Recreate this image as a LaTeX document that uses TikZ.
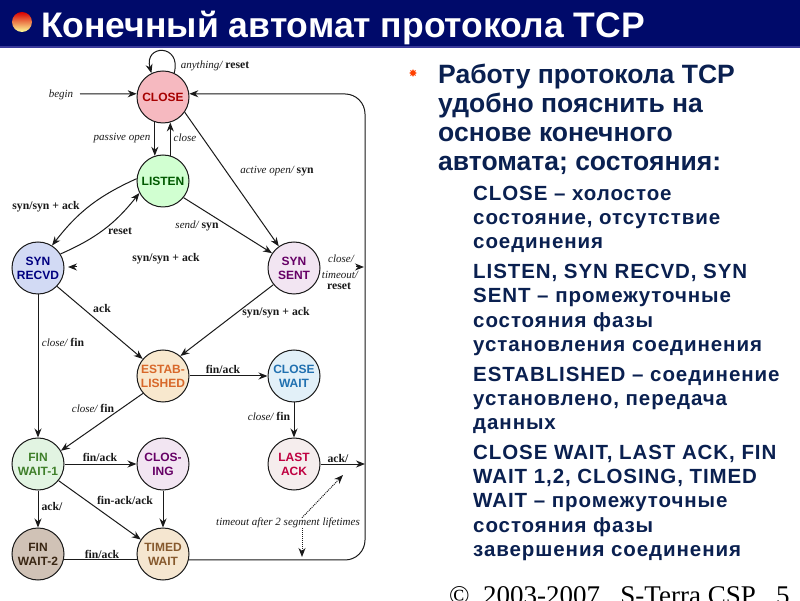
\documentclass[tikz,border=0pt]{standalone}
\usepackage{fontspec}
\setmainfont{Liberation Serif}
\setsansfont{Liberation Sans}
\newfontfamily\bodyfont[LetterSpace=4.5]{Liberation Sans}
\usepackage{xcolor}
\usetikzlibrary{arrows.meta,positioning,shapes.geometric}
\definecolor{titlenavy}{HTML}{000A6A}
\definecolor{titleline}{HTML}{3A3A9A}
\definecolor{inknavy}{HTML}{0A2050}
\definecolor{bk90}{HTML}{1A1A1A}
\definecolor{closefill}{HTML}{F6B9C0}
\definecolor{recvdfill}{HTML}{D2DAF4}
\definecolor{estabfill}{HTML}{F8E8CE}
\definecolor{waitfill}{HTML}{E2F0F8}
\definecolor{finfill}{HTML}{E2F4E2}
\definecolor{fintwofill}{HTML}{D0C2B6}
\definecolor{timedfill}{HTML}{F5E6D0}
\definecolor{lastfill}{HTML}{F5EDED}
\newcommand{\lit}[1]{{\fontsize{11}{12}\selectfont\itshape\mdseries #1}}
\tikzset{
  statenode/.style={
    circle, draw=bk90, fill=#1, line width=1pt,
    minimum size=52pt, inner sep=0pt, align=center,
    font=\fontsize{12}{14}\selectfont\sffamily\bfseries
  },
  edgelabel/.style={
    inner sep=0pt, text=bk90,
    font=\fontsize{11.7}{13}\selectfont\bfseries
  },
  dataarrow/.style={
    -{Stealth[length=9pt,width=7pt]}, line width=1pt, color=bk90
  },
  plainline/.style={line width=1pt, color=bk90},
  timerarrow/.style={
    -{Stealth[length=9pt,width=7pt]}, densely dotted, line width=1pt, color=bk90
  },
  headtext/.style={
    inner sep=0pt, align=left, text=inknavy, anchor=north west,
    font=\fontsize{26.5}{29}\selectfont\sffamily\bfseries
  },
  bodytext/.style={
    inner sep=0pt, align=left, text=inknavy, anchor=north west,
    font=\fontsize{20.5}{24.2}\selectfont\bodyfont\bfseries
  },
}
\begin{document}
\begin{tikzpicture}[x=1pt, y=1pt, node distance=84pt and 125pt, on grid]
  \useasboundingbox (0,0) rectangle (800,600);
  \fill[white] (0,0) rectangle (800,600);

  % Title bar
  \fill[titlenavy] (0,554) rectangle (800,600);
  \fill[titleline] (0,552) rectangle (800,554);
  \node[circle, minimum size=20pt, inner sep=0pt, top color=red!85!black, bottom color=yellow!40] (ball) at (22,578) {};
  \node[anchor=west, inner sep=0pt, text=white, font=\fontsize{35.5}{38}\selectfont\sffamily\bfseries] (title) at (41,572) {Конечный автомат протокола TCP};

  % States
  \node[statenode=closefill, text=red!65!black] (close) at (163,503) {CLOSE};
  \node[statenode=green!18, text=green!35!black, below=84pt of close] (listen) {LISTEN};
  \node[statenode=recvdfill, text=blue!50!black, below left=87pt and 125pt of listen] (recvd) {SYN\\RECVD};
  \node[statenode=violet!10, text=violet!80!black, below right=87pt and 131pt of listen] (sent) {SYN\\SENT};
  \node[statenode=estabfill, text={rgb,255:red,216;green,104;blue,42}, below=195pt of listen] (estab) {ESTAB-\\LISHED};
  \node[statenode=waitfill, text={rgb,255:red,32;green,112;blue,176}, right=131pt of estab] (closewait) {CLOSE\\WAIT};
  \node[statenode=lastfill, text=purple, below=88pt of closewait] (lastack) {LAST\\ACK};
  \node[statenode=violet!10, text=violet!80!black, below=88pt of estab] (closing) {CLOS-\\ING};
  \node[statenode=finfill, text={rgb,255:red,63;green,127;blue,42}, left=125pt of closing] (finone) {FIN\hspace{18pt}\\WAIT-1};
  \node[statenode=timedfill, text=brown!70!black, below=90pt of closing] (timed) {TIMED\\WAIT};
  \node[statenode=fintwofill, text=brown!30!black, left=125pt of timed] (fintwo) {FIN\hspace{18pt}\\WAIT-2};

  % Free ends
  \coordinate (beginend) at (80,506);
  \coordinate (sentout) at (364,333);
  \coordinate (sentoutb) at (356,333);
  \coordinate (recvdin) at (68,333);
  \coordinate (recvdinb) at (77,333);
  \coordinate (ackend) at (365,136);
  \coordinate (dottop) at (343,125);
  \coordinate (dotbot) at (302,43);

  % Connectors
  \draw[dataarrow] (beginend) -- (close.173);
  \draw[dataarrow] (close.65) to[out=75, in=105, looseness=3.4] (close.116);
  \draw[dataarrow] (close.-108) -- (listen.108);
  \draw[dataarrow] (listen.74) -- (close.-74);
  \draw[dataarrow] (close.-35) -- (sent.125);
  \draw[dataarrow] (listen.175) to[bend right=14] (recvd.58);
  \draw[dataarrow] (recvd.32) to[bend right=14] (listen.-153);
  \draw[dataarrow] (listen.-39) -- (sent.146);
  \draw[dataarrow] (recvd.-44) -- (estab.140);
  \draw[dataarrow] (recvd.south) -- (finone.north);
  \draw[dataarrow] (sent.-141) -- (estab.49);
  \draw[dataarrow] (estab.east) -- (closewait.west);
  \draw[dataarrow] (estab.-139) -- (finone.30);
  \draw[dataarrow] (closewait.south) -- (lastack.north);
  \draw[dataarrow] (finone.east) -- (closing.west);
  \draw[dataarrow] (finone.south) -- (fintwo.north);
  \draw[dataarrow] (finone.-39) -- (timed.147);
  \draw[dataarrow] (closing.south) -- (timed.north);
  \draw[plainline] (fintwo.-13) -- (timed.193);
  \draw[dataarrow, rounded corners=20pt] (timed.-13) -- (365,40) -- (365,506) -- (close.7);
  \draw[dataarrow] (sentoutb) -- (sentout);
  \draw[dataarrow] (recvdinb) -- (recvdin);
  \draw[dataarrow] (lastack.east) -- (ackend);

  % Edge labels
  \node[edgelabel] (lbegin) at (61,505) {\lit{begin}};
  \node[edgelabel] (lany) at (215,534) {\lit{anything/} reset};
  \node[edgelabel] (lpassive) at (122,462) {\lit{passive open}};
  \node[edgelabel] (lclose) at (185,462) {\lit{close}};
  \node[edgelabel] (lactive) at (277,429) {\lit{active open/} syn};
  \node[edgelabel] (lsynack) at (46,393) {syn/syn + ack};
  \node[edgelabel] (lreset) at (120,369) {reset};
  \node[edgelabel] (lsend) at (197,374) {\lit{send/} syn};
  \node[edgelabel] (lsynackb) at (166,341) {syn/syn + ack};
  \node[edgelabel] (lcloseb) at (341,341) {\lit{close/}};
  \node[edgelabel] (ltimeout) at (340,325) {\lit{timeout/}};
  \node[edgelabel] (lresetb) at (339,314) {reset};
  \node[edgelabel] (lack) at (102,291) {ack};
  \node[edgelabel] (lsynackc) at (276,287) {syn/syn + ack};
  \node[edgelabel] (lclosec) at (63,258) {\lit{close/} fin};
  \node[edgelabel] (lfinack) at (223,231) {fin/ack};
  \node[edgelabel] (lclosed) at (93,192) {\lit{close/} fin};
  \node[edgelabel] (lclosee) at (269,184) {\lit{close/} fin};
  \node[edgelabel] (lfinackb) at (100,143) {fin/ack};
  \node[edgelabel] (lackb) at (338,142) {ack/};
  \node[edgelabel] (lfinackc) at (125,100) {fin-ack/ack};
  \node[edgelabel] (lackc) at (52,94) {ack/};
  \node[edgelabel] (lfinackd) at (102,46) {fin/ack};
  \node[edgelabel] (ltimer) at (288,77) {\lit{timeout after 2 segment lifetimes}};
  \draw[timerarrow] ([xshift=14pt]ltimer.north) -- (dottop);
  \draw[timerarrow] ([xshift=14pt]ltimer.south) -- (dotbot);

  % Right column
  \node[star, star points=8, star point ratio=1.8, fill=orange!50!red, inner sep=0pt, minimum size=8pt] (bullet) at (413,527) {};
  \node[headtext] (head) at (438,536) {Работу протокола TCP\\удобно пояснить на\\основе конечного\\автомата; состояния:};
  \node[bodytext] (bodya) at ([xshift=35pt,yshift=-11pt]head.south west) {CLOSE – холостое\\состояние, отсутствие\\соединения};
  \node[bodytext] (bodyb) at ([yshift=-11pt]bodya.south west) {LISTEN, SYN RECVD, SYN\\SENT – промежуточные\\состояния фазы\\установления соединения};
  \node[bodytext] (bodyc) at ([yshift=-11pt]bodyb.south west) {ESTABLISHED – соединение\\установлено, передача\\данных};
  \node[bodytext] (bodyd) at ([yshift=-11pt]bodyc.south west) {CLOSE WAIT, LAST ACK, FIN\\WAIT 1,2, CLOSING, TIMED\\WAIT – промежуточные\\состояния фазы\\завершения соединения};

  % Footer
  \node[anchor=base west, inner sep=0pt, text=black, font=\fontsize{27}{30}\selectfont] (footer) at (449,-4) {©\ \ 2003-2007\ \ \ S-Terra CSP\ \ \ 5};
\end{tikzpicture}
\end{document}
